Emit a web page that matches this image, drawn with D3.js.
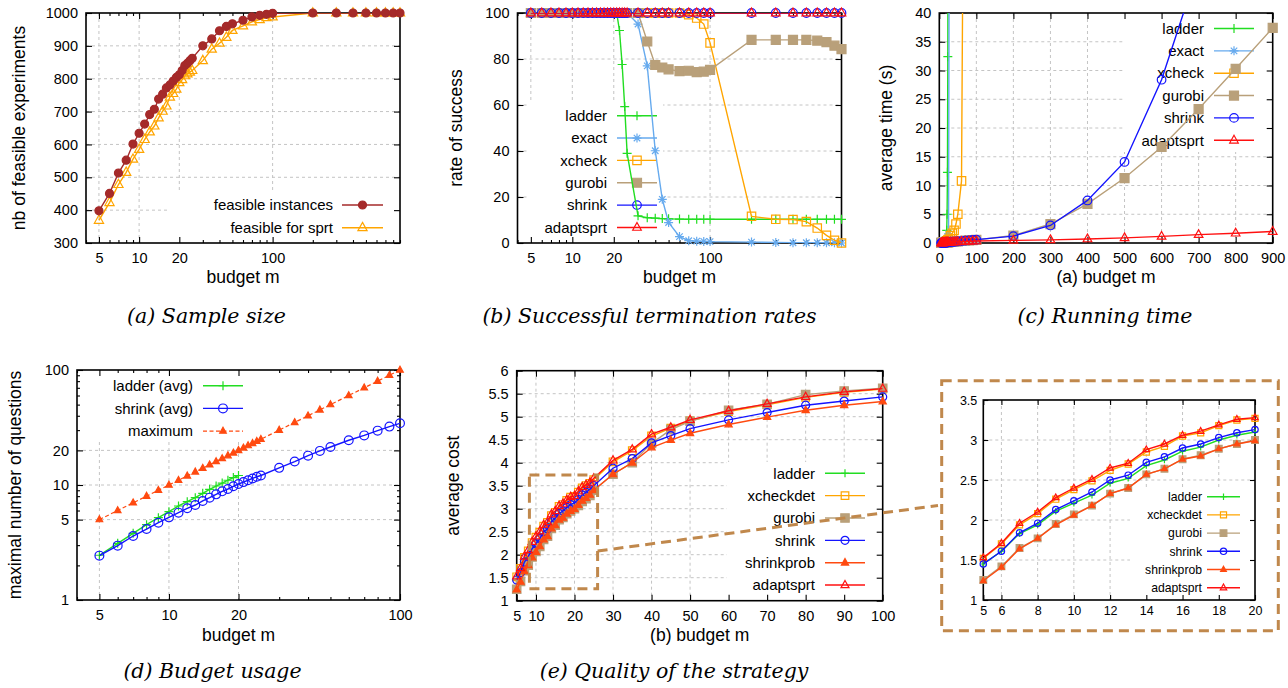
<!DOCTYPE html>
<html>
<head>
<meta charset="utf-8">
<script src="https://cdn.jsdelivr.net/npm/d3@7"></script>
<style>
  body { margin: 0; background: #fff; }
  .grid { stroke: #c4c4c4; stroke-width: 1; stroke-dasharray: 3,3; }
</style>
</head>
<body>
<script>
// ---- values ----
var budget = [5,6,7,8,9,10,11,12,13,14,15,16,17,18,19,20,21,22,23,24,25,
  30,35,40,45,50,60,70,80,90,100,200,300,400,500,600,700,800,900];
var budgetTicksLog = [5, 10, 20, 100];

// (a) sample size
var feasibleInstances = [398,451,513,552,601,634,662,691,707,738,753,772,781,793,804,812,825,840,847,855,862,
  900,921,946,959,967,978,988,993,996,999,1000,1000,1000,1000,1000,1000,1000,1000];
var feasibleSprt = [369,423,478,515,555,585,615,638,656,681,701,717,744,755,768,788,797,809,815,820,825,
  855,890,908,926,947,961,973,980,986,988,1000,1000,1000,1000,1000,1000,1000,1000];

// (b) success rate (%)
var successLadder = [100,100,100,100,100,100,100,100,100,100,100,100,100,100,100,100,100,92.4,77.6,59.3,39.0,
  11.8,11.0,10.8,10.6,10.5,10.4,10.3,10.3,10.3,10.3,10.3,10.3,10.3,10.3,10.3,10.3,10.3,10.3];
var successExact = [100,100,100,100,100,100,100,100,100,100,100,100,100,100,100,100,100,100,100,100,100,
  95.2,77.0,40.1,19.0,8.9,2.8,1.0,0.8,0.7,0.6,0.4,0.2,0.1,0.1,0.1,0.1,0.1,0.0];
var successXcheck = [100,100,100,100,100,100,100,100,100,100,100,100,100,100,100,100,100,100,100,100,100,
  100,100,100,100,100,100,99.3,97.8,95.2,87.0,11.6,10.3,10.2,9.3,6.5,3.3,1.2,0.0];
var successGurobi = [100,100,100,100,100,100,100,100,100,100,100,100,100,100,100,100,100,100,100,100,100,
  100,87.6,77.4,76.3,75.5,74.7,74.9,74.3,74.5,75.3,88.3,88.3,88.3,88.3,88.0,87.3,85.8,84.3];
var successShrink = [100,100,100,100,100,100,100,100,100,100,100,100,100,100,100,100,100,100,100,100,100,
  100,100,100,100,100,100,100,100,100,100,100,100,100,100,100,100,100,100];
var successAdaptsprt = [100,100,100,100,100,100,100,100,100,100,100,100,100,100,100,100,100,100,100,100,100,
  100,100,100,100,100,100,100,100,100,100,100,100,100,100,100,100,100,100];

// (c) running time (s), series stop where they leave the chart
var timeLadder = [0.01,0.01,0.02,0.02,0.03,0.04,0.05,0.07,0.10,0.14,0.20,0.30,0.45,0.70,1.1,2.2,5.0,12.3,32.4,80,200];
var timeExact = [0.01,0.01,0.01,0.02,0.02,0.03,0.04,0.05,0.06,0.08,0.10,0.12,0.15,0.18,0.22,0.27,0.35,0.50,0.75,1.1,1.6,150];
var timeXcheck = [0.02,0.02,0.03,0.03,0.04,0.05,0.06,0.07,0.08,0.10,0.12,0.14,0.16,0.19,0.22,0.26,0.32,0.40,0.48,0.56,0.65,
  1.3,1.7,2.2,3.3,5.0,10.8,120];
var timeGurobi = [0.02,0.02,0.03,0.03,0.04,0.04,0.05,0.05,0.06,0.06,0.07,0.08,0.08,0.09,0.10,0.10,0.11,0.12,0.13,0.14,0.15,
  0.18,0.21,0.24,0.27,0.30,0.35,0.40,0.45,0.50,0.55,1.3,3.3,6.8,11.3,16.7,23.3,30.3,37.4];
var timeShrink = [0.01,0.01,0.02,0.02,0.03,0.03,0.04,0.04,0.05,0.05,0.06,0.07,0.07,0.08,0.09,0.09,0.10,0.11,0.12,0.13,0.14,
  0.15,0.18,0.22,0.25,0.28,0.34,0.40,0.46,0.52,0.58,1.2,3.05,7.4,14.1,28.4,48,80,120];
var timeAdaptsprt = [0.02,0.02,0.03,0.03,0.04,0.04,0.05,0.05,0.06,0.06,0.07,0.07,0.08,0.08,0.09,0.09,0.10,0.10,0.11,0.11,0.12,
  0.14,0.16,0.18,0.20,0.22,0.25,0.28,0.30,0.33,0.36,0.45,0.55,0.7,0.9,1.15,1.45,1.7,2.0];

// (d) budget usage
var ladderAvg = [2.45,3.11,3.80,4.52,5.20,5.86,6.57,7.16,7.76,8.46,9.17,9.80,10.4,11.0,11.6,12.1];
var shrinkAvg = [2.43,2.97,3.60,4.14,4.70,5.23,5.75,6.27,6.70,7.26,7.76,8.29,8.81,9.23,9.74,10.2,10.6,11.0,11.4,11.8,12.1,
  14.1,16.0,18.0,19.8,21.4,24.5,27.0,29.7,32.2,34.4];
var maxQuestions = [5,6,7,8,9,10,11,12,13,14,15,16,17,18,19,20,21,22,23,24,25,30,35,40,45,50,60,70,80,90,100];

// (e) average cost
var costLadder = [1.45,1.61,1.83,1.94,2.11,2.21,2.31,2.46,2.52,2.68,2.75,2.86,2.91,3.00,3.06,3.10];
var costXcheckdet = [1.52,1.70,1.94,2.08,2.26,2.38,2.49,2.62,2.70,2.85,2.92,3.05,3.09,3.18,3.25,3.27,3.36,3.45,3.50,3.55,3.63,
  4.02,4.26,4.58,4.75,4.91,5.11,5.26,5.42,5.53,5.60];
var costGurobi = [1.25,1.42,1.65,1.77,1.95,2.07,2.18,2.33,2.40,2.57,2.64,2.76,2.81,2.89,2.95,3.00,3.07,3.16,3.22,3.29,3.40,
  3.75,4.00,4.42,4.72,4.90,5.14,5.27,5.48,5.56,5.62];
var costShrink = [1.45,1.61,1.84,1.96,2.13,2.24,2.35,2.50,2.56,2.72,2.79,2.90,2.95,3.03,3.09,3.13,3.20,3.30,3.36,3.42,3.50,
  3.88,4.09,4.43,4.59,4.74,4.93,5.09,5.25,5.34,5.43];
var costShrinkprob = [1.24,1.41,1.64,1.77,1.94,2.06,2.18,2.33,2.40,2.57,2.64,2.76,2.80,2.89,2.95,2.99,3.08,3.17,3.23,3.30,3.40,
  3.75,4.00,4.33,4.49,4.64,4.83,4.99,5.14,5.25,5.33];
var costAdaptsprt = [1.53,1.71,1.96,2.10,2.28,2.40,2.51,2.65,2.71,2.88,2.95,3.06,3.11,3.19,3.26,3.28,3.38,3.47,3.52,3.57,3.66,
  4.05,4.29,4.62,4.77,4.93,5.13,5.28,5.43,5.54,5.61];

// colours
var cLadder = "#22dd22", cExact = "#66aaee", cXcheck = "#ffa500", cGurobi = "#b9a07a",
    cShrink = "#1414ff", cAdapt = "#ff1010", cShrinkprob = "#ff4a10", cZoom = "#c0884c";

var FONT = "'Liberation Sans', Arial, Helvetica, sans-serif";
var svg = d3.select("body").append("svg").attr("width", 1288).attr("height", 688);

// gnuplot-like point shapes
function markerPath(type, s) {
  var d = s * 0.72;
  switch (type) {
    case "plus": return "M" + (-s) + ",0H" + s + "M0," + (-s) + "V" + s;
    case "star": return "M" + (-s) + ",0H" + s + "M0," + (-s) + "V" + s +
      "M" + (-d) + "," + (-d) + "L" + d + "," + d + "M" + (-d) + "," + d + "L" + d + "," + (-d);
    case "box": case "boxF": return "M" + (-s) + "," + (-s) + "H" + s + "V" + s + "H" + (-s) + "Z";
    case "circle": case "circleF":
      return "M" + s + ",0A" + s + "," + s + " 0 1,1 " + (-s) + ",0A" + s + "," + s + " 0 1,1 " + s + ",0Z";
    default: return "M0," + (-1.15 * s) + "L" + s + "," + (0.65 * s) + "L" + (-s) + "," + (0.65 * s) + "Z";
  }
}
function filled(type) { return /F$/.test(type); }

function drawMarker(g, type, s, color, cx, cy) {
  g.append("path")
    .attr("transform", "translate(" + cx + "," + cy + ")")
    .attr("d", markerPath(type, s))
    .attr("fill", filled(type) ? color : "none")
    .attr("stroke", color)
    .attr("stroke-width", 1.2);
}

// frame, grid, ticks and labels of one plot
function setupPanel(o) {
  var p = { x: o.x, y: o.y, clip: "clip-" + o.id };
  var L = o.x.range()[0], R = o.x.range()[1], B = o.y.range()[0], T = o.y.range()[1];
  p.box = { L: L, R: R, T: T, B: B };

  svg.append("clipPath").attr("id", p.clip).append("rect")
    .attr("x", L).attr("y", T).attr("width", R - L).attr("height", B - T);

  var g = svg.append("g");
  g.selectAll(null).data(o.gridX).enter().append("line").attr("class", "grid")
    .attr("x1", d => o.x(d)).attr("x2", d => o.x(d)).attr("y1", T).attr("y2", B);
  g.selectAll(null).data(o.gridY).enter().append("line").attr("class", "grid")
    .attr("x1", L).attr("x2", R).attr("y1", d => o.y(d)).attr("y2", d => o.y(d));

  // opaque key area hides the grid
  if (o.keyBox) {
    g.append("rect").attr("x", o.keyBox[0]).attr("y", o.keyBox[1])
      .attr("width", o.keyBox[2] - o.keyBox[0]).attr("height", o.keyBox[3] - o.keyBox[1])
      .attr("fill", "#fff");
  }

  var fs = o.tickFont || 14.5;
  var fmt = o.fmt || function (d) { return String(d); };
  function clean(sel) {
    sel.select(".domain").remove();
    sel.attr("font-size", fs).attr("font-family", FONT);
    sel.selectAll("line").attr("stroke-width", 1.1);
  }
  var tl = o.tickLen || 6;
  g.append("g").attr("transform", "translate(0," + B + ")")
    .call(d3.axisBottom(o.x).tickValues(o.xTicks).tickFormat(fmt).tickSizeInner(-tl).tickSizeOuter(0).tickPadding(o.xPad || 10))
    .call(clean);
  g.append("g").attr("transform", "translate(0," + T + ")")
    .call(d3.axisTop(o.x).tickValues(o.xTicks).tickFormat("").tickSizeInner(-tl).tickSizeOuter(0))
    .call(clean);
  g.append("g").attr("transform", "translate(" + L + ",0)")
    .call(d3.axisLeft(o.y).tickValues(o.yTicks).tickFormat(fmt).tickSizeInner(-tl).tickSizeOuter(0).tickPadding(o.yPad || 8))
    .call(clean);
  g.append("g").attr("transform", "translate(" + R + ",0)")
    .call(d3.axisRight(o.y).tickValues(o.yTicks).tickFormat("").tickSizeInner(-tl).tickSizeOuter(0))
    .call(clean);

  // minor ticks on log axes
  if (o.xMinor) {
    g.append("g").attr("transform", "translate(0," + B + ")")
      .call(d3.axisBottom(o.x).tickValues(o.xMinor).tickFormat("").tickSizeInner(-3).tickSizeOuter(0)).call(clean);
    g.append("g").attr("transform", "translate(0," + T + ")")
      .call(d3.axisTop(o.x).tickValues(o.xMinor).tickFormat("").tickSizeInner(-3).tickSizeOuter(0)).call(clean);
  }
  if (o.yMinor) {
    g.append("g").attr("transform", "translate(" + L + ",0)")
      .call(d3.axisLeft(o.y).tickValues(o.yMinor).tickFormat("").tickSizeInner(-3).tickSizeOuter(0)).call(clean);
    g.append("g").attr("transform", "translate(" + R + ",0)")
      .call(d3.axisRight(o.y).tickValues(o.yMinor).tickFormat("").tickSizeInner(-3).tickSizeOuter(0)).call(clean);
  }

  g.append("rect").attr("x", L).attr("y", T).attr("width", R - L).attr("height", B - T)
    .attr("fill", "none").attr("stroke", "#000").attr("stroke-width", 1.6);

  if (o.xLabel) {
    svg.append("text").attr("x", (L + R) / 2).attr("y", o.xLabelY)
      .attr("text-anchor", "middle").attr("font-family", FONT).attr("font-size", 17.5)
      .text(o.xLabel);
  }
  if (o.yLabel) {
    svg.append("text")
      .attr("transform", "translate(" + o.yLabelX + "," + (T + B) / 2 + ") rotate(-90)")
      .attr("text-anchor", "middle").attr("font-family", FONT).attr("font-size", 17.5)
      .text(o.yLabel);
  }
  p.keyG = svg.append("g");
  p.dataG = svg.append("g");
  return p;
}

function drawKey(p, items, k) {
  items.forEach(function (st, i) {
    var yy = k.top + i * k.step;
    p.keyG.append("text").attr("x", k.tx).attr("y", yy).attr("dy", "0.35em")
      .attr("text-anchor", "end").attr("font-family", FONT).attr("font-size", k.fs || 15)
      .text(st.name);
    p.keyG.append("line").attr("x1", k.l1).attr("x2", k.l2).attr("y1", yy).attr("y2", yy)
      .attr("stroke", st.color).attr("stroke-width", st.width || 1.4)
      .attr("stroke-dasharray", st.dash || null);
    drawMarker(p.keyG, st.mark, st.size, st.color, (k.l1 + k.l2) / 2, yy);
  });
}

function drawSeries(p, st) {
  var pts = st.ys.map(function (v, i) { return [budget[i], v]; })
    .filter(function (d) { return d[0] <= p.x.domain()[1] + 1e-9; });
  var line = d3.line().x(d => p.x(d[0])).y(d => p.y(d[1]));
  p.dataG.append("path").attr("d", line(pts))
    .attr("fill", "none").attr("stroke", st.color).attr("stroke-width", st.width || 1.4)
    .attr("stroke-dasharray", st.dash || null)
    .attr("clip-path", "url(#" + p.clip + ")");
  var yd = p.y.domain();
  pts.filter(d => d[1] >= yd[0] - 1e-9 && d[1] <= yd[1] + 1e-9).forEach(function (d) {
    drawMarker(p.dataG, st.mark, st.size, st.color, p.x(d[0]), p.y(d[1]));
  });
}

var logMinorWide = [4,6,7,8,9,30,40,50,60,70,80,90,200,300,400,500,600,700,800,900];

// ---------- (a) Sample size ----------
var pA = setupPanel({
  id: "a", x: d3.scaleLog().domain([4, 900]).range([86, 400]),
  y: d3.scaleLinear().domain([300, 1000]).range([243, 13]),
  xTicks: budgetTicksLog, yTicks: d3.range(300, 1001, 100), xMinor: logMinorWide,
  gridX: budgetTicksLog, gridY: d3.range(400, 1000, 100),
  keyBox: [170, 193, 400, 243],
  xLabel: "budget m", xLabelY: 283, yLabel: "nb of feasible experiments", yLabelX: 25
});
var seriesA = [
  { name: "feasible instances", ys: feasibleInstances, color: "#a52a2a", mark: "circleF", size: 4 },
  { name: "feasible for sprt", ys: feasibleSprt, color: cXcheck, mark: "tri", size: 4.6 }
];
drawKey(pA, seriesA, { tx: 333, l1: 342, l2: 383, top: 205, step: 22.7 });
seriesA.slice().reverse().forEach(s => drawSeries(pA, s));

// ---------- (b) Successful termination rates ----------
var pB = setupPanel({
  id: "b", x: d3.scaleLog().domain([4, 900]).range([517.5, 841.5]),
  y: d3.scaleLinear().domain([0, 100]).range([243, 13]),
  xTicks: budgetTicksLog, yTicks: d3.range(0, 101, 20), xMinor: logMinorWide,
  gridX: budgetTicksLog, gridY: d3.range(20, 100, 20),
  keyBox: [527, 103, 663, 243],
  xLabel: "budget m", xLabelY: 283, yLabel: "rate of success", yLabelX: 462
});
var seriesB = [
  { name: "ladder", ys: successLadder, color: cLadder, mark: "plus", size: 4.5 },
  { name: "exact", ys: successExact, color: cExact, mark: "star", size: 4.5 },
  { name: "xcheck", ys: successXcheck, color: cXcheck, mark: "box", size: 4.2 },
  { name: "gurobi", ys: successGurobi, color: cGurobi, mark: "boxF", size: 4.5 },
  { name: "shrink", ys: successShrink, color: cShrink, mark: "circle", size: 4.3 },
  { name: "adaptsprt", ys: successAdaptsprt, color: cAdapt, mark: "tri", size: 4.3 }
];
drawKey(pB, seriesB, { tx: 607, l1: 617, l2: 657, top: 115.7, step: 22.35 });
seriesB.forEach(s => drawSeries(pB, s));

// ---------- (c) Running time ----------
var pC = setupPanel({
  id: "c", x: d3.scaleLinear().domain([0, 900]).range([939.3, 1272.7]),
  y: d3.scaleLinear().domain([0, 40]).range([243, 13]),
  xTicks: d3.range(0, 901, 100), yTicks: d3.range(0, 41, 5),
  gridX: d3.range(100, 900, 100), gridY: d3.range(5, 40, 5),
  keyBox: [1123, 13, 1272.7, 152],
  xLabel: "(a) budget m", xLabelY: 283, yLabel: "average time (s)", yLabelX: 892
});
var seriesC = [
  { name: "ladder", ys: timeLadder, color: cLadder, mark: "plus", size: 4.5 },
  { name: "exact", ys: timeExact, color: cExact, mark: "star", size: 4.5 },
  { name: "xcheck", ys: timeXcheck, color: cXcheck, mark: "box", size: 4.2 },
  { name: "gurobi", ys: timeGurobi, color: cGurobi, mark: "boxF", size: 4.5 },
  { name: "shrink", ys: timeShrink, color: cShrink, mark: "circle", size: 4.3 },
  { name: "adaptsprt", ys: timeAdaptsprt, color: cAdapt, mark: "tri", size: 4.3 }
];
drawKey(pC, seriesC, { tx: 1204, l1: 1214, l2: 1254, top: 28.5, step: 22.35 });
seriesC.forEach(s => drawSeries(pC, s));

// ---------- (d) Budget usage ----------
var pD = setupPanel({
  id: "d", x: d3.scaleLog().domain([4, 100]).range([77, 400]),
  y: d3.scaleLog().domain([1, 100]).range([600, 370]),
  xTicks: budgetTicksLog, yTicks: [1, 5, 10, 20, 100],
  xMinor: [4,6,7,8,9,30,40,50,60,70,80,90], yMinor: [2,3,4,6,7,8,9,30,40,50,60,70,80,90],
  gridX: [5, 10, 20], gridY: [5, 10, 20],
  keyBox: [77, 370, 247, 440],
  xLabel: "budget m", xLabelY: 641, yLabel: "maximal number of questions", yLabelX: 21
});
var seriesD = [
  { name: "ladder (avg)", ys: ladderAvg, color: cLadder, mark: "plus", size: 4.5 },
  { name: "shrink (avg)", ys: shrinkAvg, color: cShrink, mark: "circle", size: 4.4 },
  { name: "maximum", ys: maxQuestions, color: cShrinkprob, mark: "triF", size: 3.3, dash: "4,2.5", width: 1.2 }
];
drawKey(pD, seriesD, { tx: 193, l1: 203, l2: 243, top: 385.7, step: 22.7 });
[seriesD[2], seriesD[0], seriesD[1]].forEach(s => drawSeries(pD, s));

// ---------- (e) Quality of the strategy ----------
var pE = setupPanel({
  id: "e", x: d3.scaleLinear().domain([5, 100]).range([516.7, 882.7]),
  y: d3.scaleLinear().domain([1, 6]).range([600.7, 370.7]),
  xTicks: [5, 10, 20, 30, 40, 50, 60, 70, 80, 90, 100], yTicks: d3.range(1, 6.01, 0.5),
  gridX: [10, 20, 30, 40, 50, 60, 70, 80, 90], gridY: d3.range(1.5, 6, 0.5),
  keyBox: [727, 462, 882.7, 600.7],
  xLabel: "(b) budget m", xLabelY: 641, yLabel: "average cost", yLabelX: 459
});
var seriesE = [
  { name: "ladder", ys: costLadder, color: cLadder, mark: "plus", size: 4 },
  { name: "xcheckdet", ys: costXcheckdet, color: cXcheck, mark: "box", size: 3.8 },
  { name: "gurobi", ys: costGurobi, color: cGurobi, mark: "boxF", size: 4.2 },
  { name: "shrink", ys: costShrink, color: cShrink, mark: "circle", size: 4 },
  { name: "shrinkprob", ys: costShrinkprob, color: cShrinkprob, mark: "triF", size: 3.6 },
  { name: "adaptsprt", ys: costAdaptsprt, color: cAdapt, mark: "tri", size: 4 }
];
drawKey(pE, seriesE, { tx: 815, l1: 825, l2: 865, top: 473.3, step: 22.35 });
seriesE.forEach(s => drawSeries(pE, s));

// ---------- zoomed inset of (e) ----------
var pI = setupPanel({
  id: "i", x: d3.scaleLinear().domain([5, 20]).range([983.3, 1255]),
  y: d3.scaleLinear().domain([1, 3.5]).range([600, 400]),
  xTicks: [5, 6, 8, 10, 12, 14, 16, 18, 20], yTicks: d3.range(1, 3.51, 0.5),
  gridX: [6, 8, 10, 12, 14, 16, 18], gridY: d3.range(1.5, 3.5, 0.5),
  keyBox: [1130, 488, 1255, 600],
  tickFont: 12.5, tickLen: 5, xPad: 6, yPad: 6
});
drawKey(pI, seriesE.map(s => Object.assign({}, s, { size: s.size * 0.8 })),
  { tx: 1202, l1: 1207, l2: 1240, top: 496.7, step: 18.2, fs: 12.2 });
seriesE.forEach(s => drawSeries(pI, Object.assign({}, s, { size: s.size * 0.8 })));

// zoom frame in (e), connector and inset frame
var zoomG = svg.append("g").attr("fill", "none").attr("stroke", cZoom)
  .attr("stroke-width", 3).attr("stroke-dasharray", "10,6");
zoomG.append("rect")
  .attr("x", pE.x(8.3)).attr("y", pE.y(3.73))
  .attr("width", pE.x(26) - pE.x(8.3)).attr("height", pE.y(1.26) - pE.y(3.73));
zoomG.append("line")
  .attr("x1", pE.x(26)).attr("y1", pE.y(2.08)).attr("x2", 938).attr("y2", 505.5);
zoomG.append("rect").attr("x", 941.7).attr("y", 380.7).attr("width", 336.6).attr("height", 250);

// ---------- captions ----------
var captions = [
  ["(a) Sample size", 206.5, 323],
  ["(b) Successful termination rates", 649.5, 323],
  ["(c) Running time", 1105, 323],
  ["(d) Budget usage", 212.5, 678],
  ["(e) Quality of the strategy", 674, 678]
];
svg.selectAll(null).data(captions).enter().append("text")
  .attr("x", d => d[1]).attr("y", d => d[2])
  .attr("text-anchor", "middle")
  .attr("font-family", "'DejaVu Serif', 'Liberation Serif', serif")
  .attr("font-style", "italic").attr("font-size", 20.5)
  .text(d => d[0]);
</script>
</body>
</html>
